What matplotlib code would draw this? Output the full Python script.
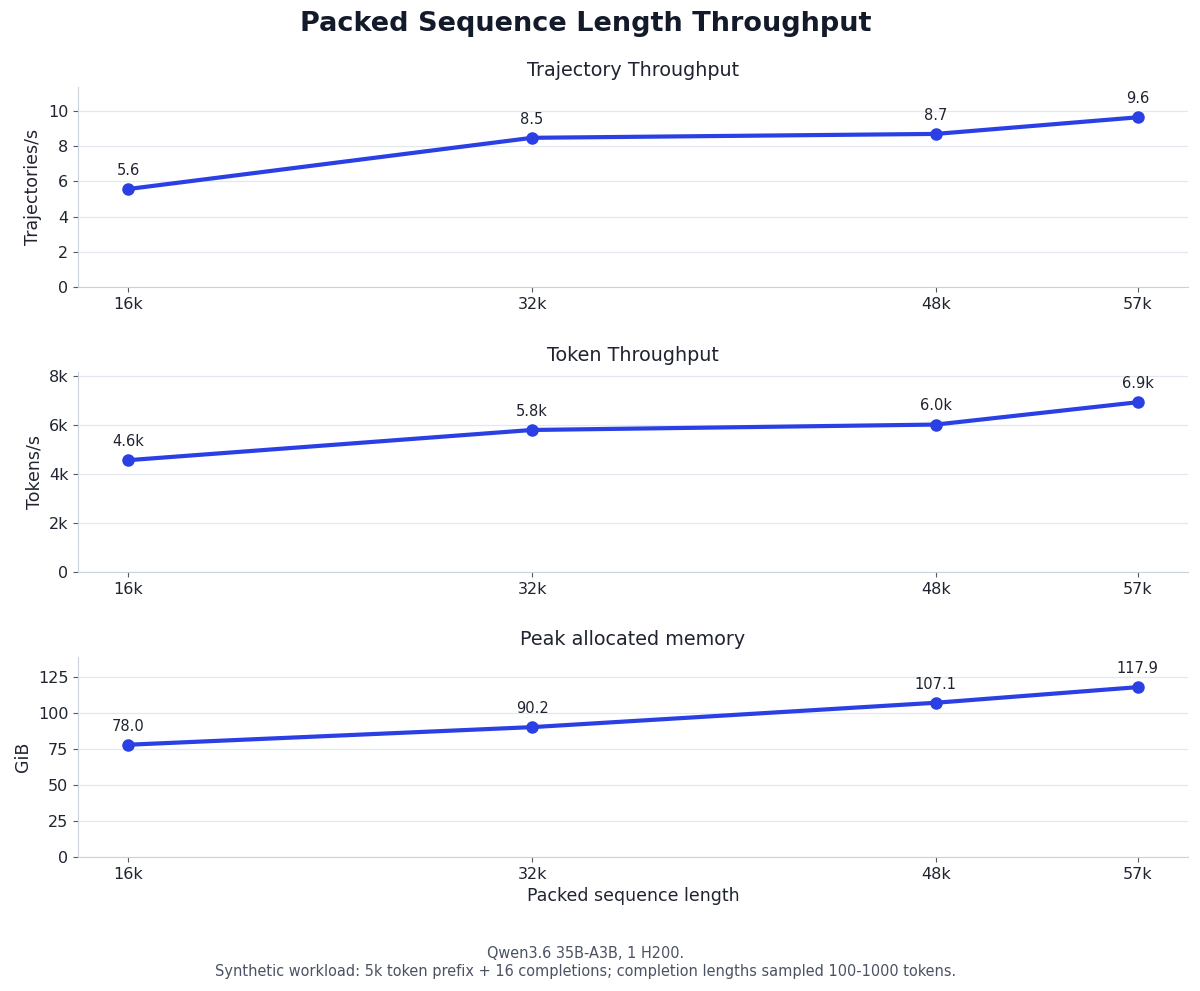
import numpy as np
import matplotlib.pyplot as plt

# packed sequence lengths (tokens)
seq_len = [16384, 32768, 49152, 57344]
seq_labels = ['16k', '32k', '48k', '57k']

traj_per_s = [5.57, 8.47, 8.69, 9.63]
tokens_per_s = [4570, 5800, 6020, 6930]
peak_mem_gib = [78.0, 90.2, 107.1, 117.9]

LINE = '#2a40e4'
SPINE = '#cbd2de'
GRID = '#e3e8f0'
TEXT = '#1f2430'


def fmt_k(v):
  return '%.1fk' % (v / 1000.0)


def style_axis(ax, title, ylabel):
  ax.set_title(title, fontsize=13.8, color=TEXT, pad=8)
  ax.set_ylabel(ylabel, fontsize=12.5, color=TEXT)
  for s in ['top', 'right']:
    ax.spines[s].set_visible(False)
  for s in ['left', 'bottom']:
    ax.spines[s].set_color(SPINE)
  ax.tick_params(colors=TEXT, labelsize=11.5)
  ax.tick_params(axis='both', color='#555b66')
  ax.grid(axis='y', color=GRID, linewidth=0.9)
  ax.set_axisbelow(True)
  ax.set_xticks(seq_len)
  ax.set_xticklabels(seq_labels)


def plot_panel(ax, y, title, ylabel, labeler):
  ax.plot(seq_len, y, color=LINE, linewidth=3, marker='o', markersize=8)
  for xi, yi in zip(seq_len, y):
    ax.annotate(labeler(yi), (xi, yi), textcoords='offset points',
                xytext=(0, 8), ha='center', va='bottom', fontsize=10.5, color=TEXT)
  ax.set_ylim(0, max(y) * 1.18)
  style_axis(ax, title, ylabel)


fig, axes = plt.subplots(3, 1, figsize=(12, 9.91), dpi=100)
plt.subplots_adjust(left=0.065, right=0.99, top=0.9125, bottom=0.135, hspace=0.42)

plot_panel(axes[0], traj_per_s, 'Trajectory Throughput', 'Trajectories/s',
           lambda v: '%.1f' % v)
plot_panel(axes[1], tokens_per_s, 'Token Throughput', 'Tokens/s', fmt_k)
axes[1].set_yticks([0, 2000, 4000, 6000, 8000])
axes[1].set_yticklabels(['0', '2k', '4k', '6k', '8k'])
plot_panel(axes[2], peak_mem_gib, 'Peak allocated memory', 'GiB',
           lambda v: '%.1f' % v)
axes[2].set_yticks([0, 25, 50, 75, 100, 125])
axes[2].set_xlabel('Packed sequence length', fontsize=12.5, color=TEXT)

fig.suptitle('Packed Sequence Length Throughput', fontsize=19.5, fontweight='bold',
             color='#131a2a', x=0.488, y=0.989)
fig.text(0.488, 0.029,
         'Qwen3.6 35B-A3B, 1 H200.\nSynthetic workload: 5k token prefix + 16 completions; '
         'completion lengths sampled 100-1000 tokens.',
         ha='center', va='center', fontsize=11.6, color='#4b5263',
         fontstretch='condensed', linespacing=1.25)

plt.savefig('out.png', dpi=100)
